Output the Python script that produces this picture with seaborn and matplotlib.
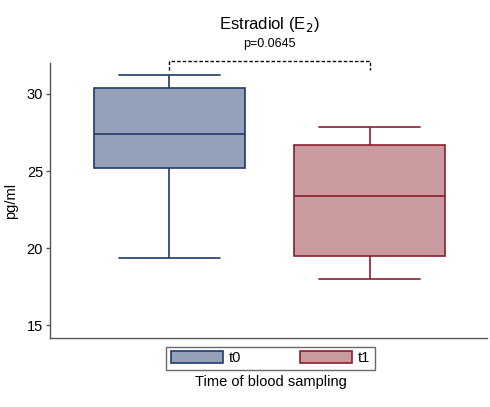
import pandas as pd
import matplotlib.pyplot as plt
from matplotlib.patches import Patch
import seaborn as sns

# ── DATA ──────────────────────────────────────────────────────────────────────
# five-number summaries (min, q1, median, q3, max)
times = ["t0", "t1"]
t0_vals = [19.35, 25.2, 27.4, 30.4, 31.25]
t1_vals = [18.0, 19.5, 23.4, 26.7, 27.85]
p_text = "p=0.0645"

fills = {"t0": "#95a1b8", "t1": "#c99a9e"}
edges = {"t0": "#1f3a6c", "t1": "#8c1e2b"}

df = pd.DataFrame({
    "time": ["t0"] * len(t0_vals) + ["t1"] * len(t1_vals),
    "value": t0_vals + t1_vals,
})

# ── SETUP ─────────────────────────────────────────────────────────────────────
sns.set_theme(style="white")
plt.rcParams["font.family"] = ["Liberation Sans", "DejaVu Sans"]
plt.rcParams.update({"text.color": "black", "axes.labelcolor": "black",
                     "ytick.color": "black", "xtick.color": "black"})

fig = plt.figure(figsize=(4.9, 4.07), dpi=100)
ax = fig.add_axes([0.102, 0.17, 0.892, 0.675])

for t in times:
    sns.boxplot(data=df[df["time"] == t], x="time", y="value", order=times,
                color=fills[t], linecolor=edges[t], linewidth=1.2,
                width=0.755, whis=(0, 100), saturation=1,
                capwidths=0.505, ax=ax)

ax.set_xlim(-0.595, 1.585)
ax.set_ylim(14.2, 32.0)
ax.set_yticks([15, 20, 25, 30])
ax.set_xticks([])
ax.set_xlabel("")
ax.set_ylabel("pg/ml", fontsize=10.5, labelpad=6)
ax.tick_params(axis="y", left=True, length=3, width=1, color="#555555",
               labelsize=10.5, pad=2)
for side in ["top", "right"]:
    ax.spines[side].set_visible(False)
for side in ["left", "bottom"]:
    ax.spines[side].set_color("#555555")
    ax.spines[side].set_linewidth(1)

# title and significance bracket
fig.text(0.55, 0.94, "Estradiol (E$_2$)", ha="center", va="center", fontsize=12)
fig.text(0.55, 0.892, p_text, ha="center", va="center", fontsize=9)
x0, x1 = times.index("t0"), times.index("t1")
ax.plot([x0, x0, x1, x1], [31.55, 32.12, 32.12, 31.55], color="black",
        linestyle=(0, (2.5, 1.5)), linewidth=1, clip_on=False)

# legend below the axes
handles = [Patch(facecolor=fills[t], edgecolor=edges[t], linewidth=1.2, label=t)
           for t in times]
leg = fig.legend(handles=handles, loc="center", bbox_to_anchor=(0.552, 0.12),
                 ncol=2, frameon=True, fontsize=10.5, handlelength=3.6,
                 handleheight=0.9, columnspacing=4.0, handletextpad=0.4,
                 borderpad=0.3, fancybox=False)
leg.get_frame().set_edgecolor("#444444")
leg.get_frame().set_linewidth(1)
fig.text(0.552, 0.061, "Time of blood sampling", ha="center", va="center",
         fontsize=10.5)

plt.savefig("out.png", dpi=100)
plt.close()
